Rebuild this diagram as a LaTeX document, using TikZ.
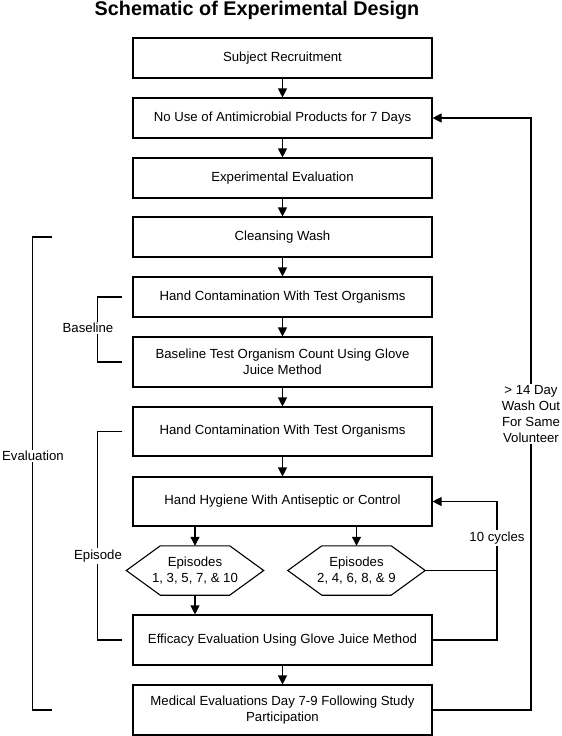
\documentclass[tikz,border=0pt]{standalone}
\usepackage{fontspec}
\setmainfont{Liberation Sans}
\usetikzlibrary{arrows.meta,calc}
\begin{document}
\begin{tikzpicture}[
  x=1pt, y=-1pt,
  every node/.style={font=\fontsize{13.2}{15.7}\selectfont},
  box/.style={draw, line width=1.1pt, minimum width=299pt, inner sep=0pt, align=center},
  hexn/.style={minimum width=137pt, minimum height=49pt, inner sep=0pt, align=center},
  arr/.style={line width=1.1pt, -{Triangle[length=9pt,width=9pt]}},
  ln/.style={line width=1.1pt},
  lbl/.style={fill=white, inner sep=1.5pt, align=center}
]
\useasboundingbox (0,0) rectangle (562,736);

\node[font=\fontsize{19.8}{24}\selectfont\bfseries, anchor=base] (title) at (257,15) {Schematic of Experimental Design};

\node[box, minimum height=40pt] (b1) at (282.5,58) {Subject Recruitment};
\node[box, minimum height=40pt] (b2) at (282.5,118) {No Use of Antimicrobial Products for 7 Days};
\node[box, minimum height=40pt] (b3) at (282.5,178) {Experimental Evaluation};
\node[box, minimum height=40pt] (b4) at (282.5,237) {Cleansing Wash};
\node[box, minimum height=40pt] (b5) at (282.5,297) {Hand Contamination With Test Organisms};
\node[box, minimum height=50pt] (b6) at (282.5,362) {Baseline Test Organism Count Using Glove\\Juice Method};
\node[box, minimum height=49pt] (b7) at (282.5,431.5) {Hand Contamination With Test Organisms};
\node[box, minimum height=49pt] (b8) at (282.5,501.5) {Hand Hygiene With Antiseptic or Control};
\node[box, minimum height=50pt] (eff) at (282.5,640) {Efficacy Evaluation Using Glove Juice Method};
\node[box, minimum height=50pt] (med) at (282.5,710) {Medical Evaluations Day 7-9 Following Study\\Participation};

\node[hexn] (h1) at (195,570.5) {Episodes\\1, 3, 5, 7, \& 10};
\node[hexn] (h2) at (356.5,570.5) {Episodes\\2, 4, 6, 8, \& 9};
\foreach \h in {h1,h2}{
  \draw[ln] (\h.west) -- ([xshift=34pt]\h.north west) -- ([xshift=-34pt]\h.north east)
    -- (\h.east) -- ([xshift=-34pt]\h.south east) -- ([xshift=34pt]\h.south west) -- cycle;
}

\draw[arr] (b1) -- (b2);
\draw[arr] (b2) -- (b3);
\draw[arr] (b3) -- (b4);
\draw[arr] (b4) -- (b5);
\draw[arr] (b5) -- (b6);
\draw[arr] (b6) -- (b7);
\draw[arr] (b7) -- (b8);
\draw[arr] (h1.north |- b8.south) -- (h1.north);
\draw[arr] (h2.north |- b8.south) -- (h2.north);
\draw[arr] (h1.south) -- (h1.south |- eff.north);
\draw[arr] (eff) -- (med);

\coordinate (lx) at (497,0);
\coordinate (ox) at (531,0);
\draw[arr] (eff.east) -- (eff.east -| lx) |- (b8.east);
\draw[ln] (h2.east) -- (h2.east -| lx);
\node[lbl] (cyc) at (497,538) {10 cycles};
\draw[arr] (med.east) -- (med.east -| ox) |- (b2.east);
\node[lbl] (wash) at (531,414) {> 14 Day\\Wash Out\\For Same\\Volunteer};

\draw[ln] ([xshift=-80pt]b4.west) -- ++(-20,0) |- ([xshift=-80pt]med.west);
\node[lbl] (evl) at (33,456) {Evaluation};
\draw[ln] ([xshift=-10pt]b5.west) -- ++(-25,0) |- ([xshift=-10pt]b6.west);
\node[lbl] (bsl) at (88,328) {Baseline};
\draw[ln] ([xshift=-10pt]b7.west) -- ++(-25,0) |- ([xshift=-10pt]eff.west);
\node[lbl] (epi) at (98,556) {Episode};
\end{tikzpicture}
\end{document}
